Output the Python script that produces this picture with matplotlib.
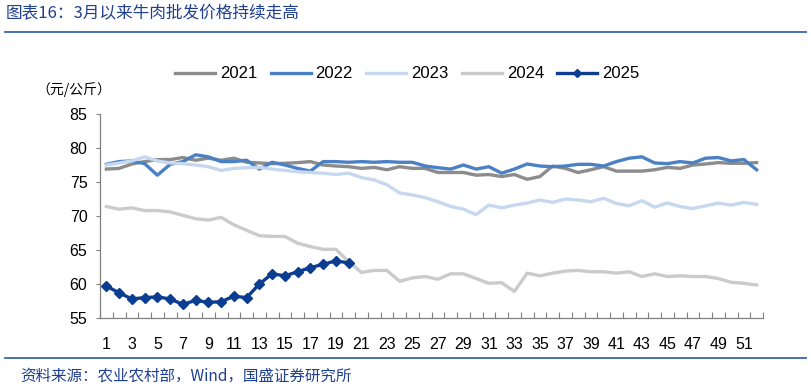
import numpy as np
import matplotlib.pyplot as plt
from matplotlib.lines import Line2D
from matplotlib import font_manager

names = {f.name for f in font_manager.fontManager.ttflist}
narrow = 'Liberation Sans Narrow' if 'Liberation Sans Narrow' in names else 'Liberation Sans'
plt.rcParams['font.family'] = [narrow, 'Noto Sans CJK SC', 'DejaVu Sans']
cjk = ['Noto Sans CJK SC', 'DejaVu Sans']

weeks = np.arange(1, 53)

y2021 = [76.9, 77.0, 77.65, 78.0, 78.3, 78.3, 78.6, 78.2, 78.5, 78.2, 78.5, 77.9, 77.8, 77.7,
         77.75, 77.85, 78.0, 77.5, 77.35, 77.25, 77.0, 77.15, 76.8, 77.25, 77.0, 77.0, 76.4, 76.4,
         76.4, 76.0, 76.1, 75.8, 76.1, 75.4, 75.8, 77.35, 77.0, 76.4, 76.8, 77.25, 76.6, 76.6,
         76.6, 76.8, 77.15, 77.0, 77.5, 77.65, 77.85, 77.75, 77.75, 77.85]
y2022 = [77.6, 78.0, 78.1, 77.7, 76.0, 77.6, 78.0, 79.0, 78.7, 78.0, 78.0, 78.2, 76.9, 77.9,
         77.5, 77.0, 76.6, 78.0, 78.0, 77.9, 78.0, 77.9, 78.0, 77.9, 77.9, 77.35, 77.1, 76.9,
         77.5, 76.9, 77.25, 76.3, 76.9, 77.65, 77.35, 77.25, 77.35, 77.6, 77.6, 77.35, 78.0,
         78.5, 78.7, 77.8, 77.7, 78.0, 77.8, 78.5, 78.6, 78.1, 78.3, 76.8]
y2023 = [77.5, 77.8, 78.1, 78.7, 78.1, 77.8, 77.7, 77.5, 77.25, 76.7, 77.0, 77.1, 77.15, 76.9,
         76.7, 76.5, 76.4, 76.3, 76.1, 76.3, 75.65, 75.3, 74.6, 73.4, 73.1, 72.7, 72.1, 71.4,
         71.0, 70.2, 71.6, 71.2, 71.6, 71.9, 72.35, 72.0, 72.5, 72.35, 72.1, 72.6, 71.85, 71.5,
         72.25, 71.3, 71.9, 71.4, 71.1, 71.5, 71.9, 71.6, 72.0, 71.7]
y2024 = [71.4, 71.0, 71.2, 70.8, 70.8, 70.6, 70.1, 69.6, 69.4, 69.8, 68.7, 67.9, 67.1, 67.0,
         67.0, 66.0, 65.5, 65.1, 65.1, 63.3, 61.7, 62.0, 62.0, 60.4, 60.9, 61.1, 60.7, 61.5,
         61.5, 60.8, 60.1, 60.2, 58.9, 61.6, 61.2, 61.6, 61.9, 62.0, 61.8, 61.8, 61.6, 61.8,
         61.1, 61.5, 61.1, 61.2, 61.1, 61.1, 60.8, 60.25, 60.1, 59.85]
y2025 = [59.7, 58.7, 57.8, 58.0, 58.1, 57.8, 57.0, 57.6, 57.3, 57.4, 58.2, 58.0, 60.0, 61.5,
         61.2, 61.8, 62.4, 62.9, 63.4, 63.1]

series = [('2021', y2021, '#8c8c8c'),
          ('2022', y2022, '#4a80c4'),
          ('2023', y2023, '#c5d8ef'),
          ('2024', y2024, '#cbcbcb')]

fig = plt.figure(figsize=(8.11, 3.89), dpi=100)
ax = fig.add_axes([100/811, 1-318/389, 663/811, 204/389])

for name, vals, col in series:
    ax.plot(weeks[:len(vals)], vals, color=col, lw=2.4, label=name, solid_joinstyle='round')
ax.plot(weeks[:len(y2025)], y2025, color='#0b3d91', lw=2.4, marker='D', ms=5.5,
        label='2025')

ax.set_xlim(0.5, 52.5)
ax.set_ylim(55, 85)
ax.set_yticks([55, 60, 65, 70, 75, 80, 85])
ax.set_xticks(np.arange(1, 53, 2))
ax.set_xticks(np.arange(0.5, 53, 1), minor=True)
ax.tick_params(axis='x', which='major', length=0, pad=14, labelsize=11.5)
ax.tick_params(axis='x', which='minor', direction='in', length=4, color='#808080', width=0.8)
ax.tick_params(axis='y', direction='out', length=3, color='#808080', width=0.8, labelsize=11.5, pad=6)
for s in ['top', 'right']:
    ax.spines[s].set_visible(False)
for s in ['left', 'bottom']:
    ax.spines[s].set_color('#808080')
    ax.spines[s].set_linewidth(0.9)

handles, labels = ax.get_legend_handles_labels()
handles[-1] = Line2D([], [], color='#0b3d91', lw=2.4, marker='D', ms=4.5)
fig.legend(handles, labels, loc='center left', bbox_to_anchor=(175/811, 1-74/389), ncol=5,
           frameon=False, fontsize=12, handlelength=2.4, handletextpad=0.3,
           columnspacing=0.8, borderpad=0, borderaxespad=0)

fig.text(36/811, 1-90/389, '（元/公斤）', fontsize=10, family=cjk, va='center', ha='left')

title_blue = '#1f3f8f'
fig.text(6/811, 1-14/389, '图表16：3月以来牛肉批发价格持续走高', fontsize=12, color=title_blue,
         style='italic', family=cjk, va='center', ha='left')
fig.add_artist(Line2D([5/811, 806/811], [1-32/389, 1-32/389], color='#3a64ad', lw=1.3))
fig.add_artist(Line2D([5/811, 806/811], [1-358/389, 1-358/389], color='#3a64ad', lw=1.3))
fig.text(20/811, 1-376/389, '资料来源：农业农村部，Wind，国盛证券研究所', fontsize=11.2, color=title_blue,
         style='italic', family=cjk, va='center', ha='left')

fig.savefig('out.png', dpi=100)
